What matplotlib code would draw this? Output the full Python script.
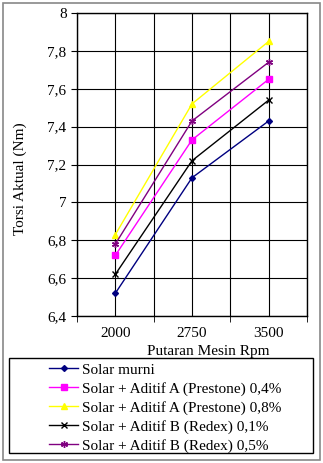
import matplotlib
matplotlib.use("Agg")
import matplotlib.pyplot as plt
from matplotlib.patches import Rectangle
from matplotlib.ticker import FuncFormatter, MultipleLocator
import numpy as np

plt.rcParams["font.family"] = ["Liberation Serif", "DejaVu Serif"]

rpm = ["2000", "2750", "3500"]
solar_murni = [6.52, 7.13, 7.43]
prestone_04 = [6.72, 7.33, 7.65]
prestone_08 = [6.83, 7.52, 7.85]
redex_01 = [6.62, 7.22, 7.54]
redex_05 = [6.78, 7.43, 7.74]

series = [
    ("Solar murni", solar_murni, "#000080", "D", 3),
    ("Solar + Aditif A (Prestone) 0,4%", prestone_04, "#FF00FF", "s", 4.5),
    ("Solar + Aditif A (Prestone) 0,8%", prestone_08, "#FFFF00", "^", 4.5),
    ("Solar + Aditif B (Redex) 0,1%", redex_01, "#000000", "x", 5),
    ("Solar + Aditif B (Redex) 0,5%", redex_05, "#800080", (6, 2, 0), 5),
]

W, H = 323, 463
fig = plt.figure(figsize=(W / 100, H / 100), dpi=100)
fig.patches.append(Rectangle((3 / W, 3 / H), 317 / W, 457 / H, transform=fig.transFigure,
                             fill=False, edgecolor="#888888", linewidth=1.2))

ax = fig.add_axes([77 / W, 1 - 316 / H, 230 / W, 303 / H])
x = np.arange(len(rpm))
for label, vals, color, marker, ms in series:
    ax.plot(x, vals, color=color, marker=marker, markersize=ms, linewidth=1.0,
            markeredgewidth=1.0, label=label, zorder=3)

ax.set_xlim(-0.5, len(rpm) - 0.5)
ax.set_ylim(6.4, 8.0)
ax.set_xticks(x)
ax.set_xticklabels(rpm, fontsize=11)
ax.tick_params(axis="x", length=0, pad=8)
ax.set_xticks(np.arange(-0.5, len(rpm), 1.0), minor=True)
ax.tick_params(axis="x", which="minor", length=4, direction="out")
for xv in np.arange(-0.5, len(rpm), 0.5):
    ax.axvline(xv, color="black", linewidth=0.8, zorder=1)
ax.yaxis.set_major_locator(MultipleLocator(0.2))
ax.yaxis.set_major_formatter(FuncFormatter(lambda v, p: f"{v:.1f}".rstrip("0").rstrip(".").replace(".", ",")))
ax.tick_params(axis="y", labelsize=11, length=4, direction="out")
ax.grid(True, which="major", axis="y", color="black", linewidth=0.8)
ax.set_axisbelow(True)
for s in ax.spines.values():
    s.set_linewidth(1.0)

fig.text(20 / W, 1 - 179 / H, "Torsi Aktual (Nm)", rotation=90, ha="center", va="center", fontsize=11)
fig.text(208 / W, 1 - 351 / H, "Putaran Mesin Rpm", ha="center", va="center", fontsize=11)

fig.patches.append(Rectangle((9 / W, 1 - 453 / H), 304 / W, 95 / H, transform=fig.transFigure,
                             fill=False, edgecolor="black", linewidth=1.0))
fig.legend(loc="upper left", bbox_to_anchor=(49 / W, 1 - 363 / H), frameon=False, fontsize=11,
           handlelength=1.9, handletextpad=0.25, labelspacing=0.33, borderpad=0, borderaxespad=0)

fig.savefig("out.png", dpi=100)
